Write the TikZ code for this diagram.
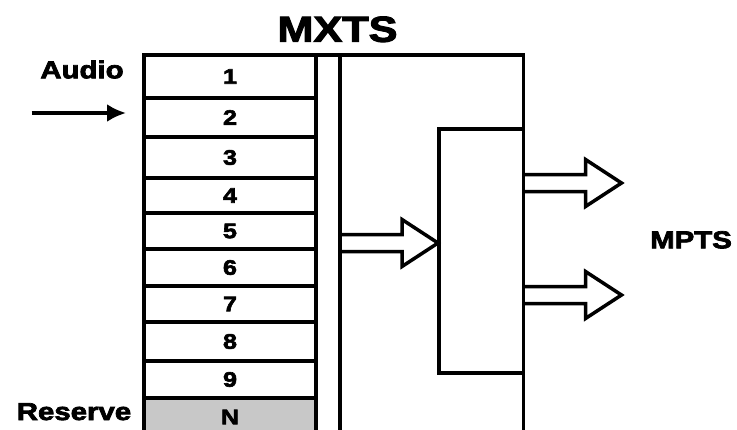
\documentclass[tikz,border=0pt]{standalone}
\usepackage{fontspec}
\newfontfamily\blackfont{Liberation Sans}[FakeStretch=1.2,BoldFeatures={FakeBold=3}]
\usepackage{tikz}
\usetikzlibrary{arrows.meta}
\usetikzlibrary{positioning,calc}
\definecolor{reservegray}{RGB}{200,200,200}

\tikzset{
  bigtext/.style={font=\blackfont\bfseries\fontsize{24.5}{26}\selectfont},
  titletext/.style={font=\blackfont\bfseries\fontsize{36}{38}\selectfont},
  slotbox/.style={draw,minimum width=172pt,inner sep=0pt,outer sep=0pt,
    font=\blackfont\bfseries\fontsize{21}{23}\selectfont},
  blockarrow/.pic={\draw (0,8.5) -- (62,8.5) -- (62,23.5) -- (98,0)
    -- (62,-23.5) -- (62,-8.5) -- (0,-8.5);}
}

\begin{document}
\begin{tikzpicture}[x=1pt,y=-1pt,line width=3.5pt,line join=miter]
    \useasboundingbox (0,0) rectangle (737,429);
    \clip (0,0) rectangle (737,429);
    \foreach \n/\ya/\yb in {1/55/98, 2/98/137, 3/137/178, 4/178/213, 5/213/249,
      6/249/286, 7/286/322, 8/322/361, 9/361/398}{
      \node[slotbox,minimum height={(\yb-\ya)*1pt}] (slot\n) at (230,{(\ya+\yb)/2}) {\n};}
    \node[slotbox,fill=reservegray,minimum height=38pt,anchor=north] (slotN) at (slot9.south) {N};
    \coordinate (frameTR) at (523.5,55);
    \coordinate (frameBR) at (523.5,440);
    \coordinate (busT) at (340,55);
    \coordinate (busB) at (340,440);
    \draw (slot1.north east) -- (frameTR) -- (frameBR);
    \draw (busT) -- (busB);
    \node[draw,outer sep=0pt,minimum width=84.5pt,minimum height=244pt] (mux) at (481.25,251) {};
    \pic at (340,243) {blockarrow};
    \pic at (523.5,183) {blockarrow};
    \pic at (523.5,295) {blockarrow};
    \node[titletext,anchor=base] (mxts) at (337.5,41.7) {MXTS};
    \node[bigtext,anchor=base] (audio) at (82,78.3) {Audio};
    \node[bigtext,anchor=base] (reserve) at (74,420) {Reserve};
    \node[bigtext,anchor=base] (mpts) at (691,248.3) {MPTS};
    \coordinate (audioIn) at (31.7,113);
    \draw[-{Latex[length=19pt,width=18pt]},shorten >=18pt] (audioIn) -- (audioIn -| slot2.west);
  \end{tikzpicture}
\end{document}
